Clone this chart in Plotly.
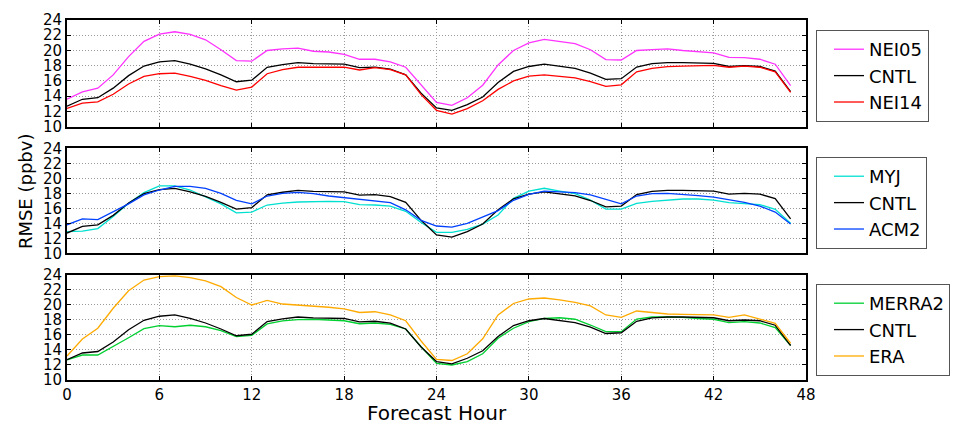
import plotly.graph_objects as go

hours = list(range(48))

cntl = [12.7, 13.6, 13.8, 15.06, 16.7, 17.96, 18.5, 18.67, 18.2, 17.6, 16.8, 15.9,
        16.1, 17.8, 18.14, 18.4, 18.27, 18.27, 18.2, 17.75, 17.83, 17.57, 16.8, 14.4,
        12.46, 12.15, 12.9, 13.9, 15.8, 17.26, 17.9, 18.2, 17.9, 17.66, 17.04, 16.2,
        16.3, 17.83, 18.27, 18.4, 18.4, 18.36, 18.3, 17.9, 18.0, 17.9, 17.3, 14.6]

nei05 = [13.6, 14.57, 15.06, 16.8, 19.2, 21.2, 22.15, 22.46, 22.1, 21.4, 20.1, 18.67,
         18.6, 20.0, 20.2, 20.3, 19.9, 19.8, 19.5, 18.85, 18.85, 18.5, 17.8, 15.5,
         13.2, 12.8, 13.8, 15.45, 18.1, 20.0, 21.0, 21.45, 21.2, 20.9, 20.1, 18.8,
         18.75, 20.0, 20.1, 20.2, 20.0, 19.85, 19.7, 19.1, 19.07, 18.85, 18.2, 15.4]

nei14 = [12.4, 13.1, 13.25, 14.26, 15.6, 16.6, 16.95, 17.04, 16.6, 16.07, 15.4, 14.8,
         15.2, 16.95, 17.48, 17.8, 17.8, 17.8, 17.83, 17.44, 17.75, 17.48, 16.8, 14.2,
         12.15, 11.66, 12.37, 13.4, 14.9, 16.0, 16.64, 16.8, 16.6, 16.4, 15.9, 15.3,
         15.5, 17.2, 17.66, 17.88, 17.96, 18.0, 18.05, 17.8, 17.96, 17.8, 17.2, 14.5]

myj = [12.9, 12.96, 13.3, 14.9, 16.67, 18.1, 19.0, 19.0, 18.44, 17.56, 16.6, 15.4,
       15.5, 16.44, 16.7, 16.84, 16.9, 16.93, 16.9, 16.5, 16.44, 16.3, 15.6, 14.1,
       12.8, 12.8, 13.2, 13.9, 15.1, 17.33, 18.3, 18.67, 18.3, 17.96, 17.1, 15.9,
       15.9, 16.67, 16.93, 17.1, 17.24, 17.24, 17.1, 16.75, 16.67, 16.5, 15.86, 14.0]

acm2 = [13.8, 14.6, 14.5, 15.5, 16.6, 17.8, 18.44, 18.93, 18.93, 18.67, 18.0, 17.07,
        16.6, 17.64, 18.0, 18.13, 17.96, 17.64, 17.4, 17.24, 17.0, 16.75, 15.8, 14.4,
        13.64, 13.5, 14.0, 14.8, 15.7, 17.07, 17.87, 18.3, 18.17, 18.1, 17.8, 17.2,
        16.6, 17.64, 17.96, 18.0, 17.87, 17.7, 17.5, 17.2, 16.8, 16.3, 15.5, 13.9]

merra2 = [12.67, 13.33, 13.33, 14.44, 15.64, 16.84, 17.24, 17.1, 17.3, 17.1, 16.58, 15.78,
          15.96, 17.47, 17.87, 18.04, 18.1, 18.0, 17.9, 17.5, 17.6, 17.42, 16.8, 14.44,
          12.2, 12.0, 12.44, 13.5, 15.56, 16.9, 17.78, 18.2, 18.3, 18.1, 17.33, 16.44,
          16.44, 18.13, 18.4, 18.4, 18.36, 18.2, 18.1, 17.64, 17.78, 17.6, 16.98, 14.58]

era = [13.2, 15.47, 16.9, 19.56, 21.9, 23.33, 23.78, 23.87, 23.64, 23.2, 22.44, 21.0,
       20.0, 20.6, 20.13, 20.0, 19.87, 19.7, 19.47, 19.0, 19.1, 18.67, 17.9, 15.2,
       12.75, 12.6, 13.5, 15.5, 18.67, 20.2, 20.8, 20.93, 20.67, 20.36, 19.87, 18.67,
       18.36, 19.2, 19.0, 18.8, 18.76, 18.76, 18.67, 18.36, 18.67, 18.13, 17.56, 14.9]

xticks = [0, 6, 12, 18, 24, 30, 36, 42, 48]
yticks = [10, 12, 14, 16, 18, 20, 22, 24]

panels = [
    [("NEI05", nei05, "#ff33ff"), ("CNTL", cntl, "#000000"), ("NEI14", nei14, "#ff0000")],
    [("MYJ", myj, "#00e0d0"), ("CNTL", cntl, "#000000"), ("ACM2", acm2, "#0040ff")],
    [("MERRA2", merra2, "#00d030"), ("CNTL", cntl, "#000000"), ("ERA", era, "#ffaa00")],
]

FONT = "DejaVu Sans"
fig = go.Figure()

# plot area: x 67..808, y 20..380 (px)
domains = [[0.7036, 1.0], [0.3519, 0.6436], [0.0, 0.2917]]
legend_tops = [0.9722, 0.6194, 0.2667]

for i, series in enumerate(panels):
    n = i + 1
    xa = "x" if n == 1 else f"x{n}"
    ya = "y" if n == 1 else f"y{n}"
    lg = "legend" if n == 1 else f"legend{n}"
    for name, vals, col in series:
        fig.add_trace(go.Scatter(x=hours, y=vals, mode="lines", name=name,
                                 line=dict(color=col, width=1.3),
                                 xaxis=xa, yaxis=ya, legend=lg))
    axcommon = dict(showline=True, linecolor="black", linewidth=2, mirror="allticks",
                    ticks="inside", ticklen=4, tickcolor="black", tickwidth=1,
                    showgrid=True, gridcolor="#9a9a9a", griddash="1px,2px", gridwidth=1,
                    zeroline=False, tickfont=dict(family=FONT, size=15, color="black"))
    xkey = "xaxis" if n == 1 else f"xaxis{n}"
    ykey = "yaxis" if n == 1 else f"yaxis{n}"
    fig.update_layout({
        xkey: dict(axcommon, domain=[0, 1], range=[0, 48], tickvals=xticks,
                   ticktext=[str(t) for t in xticks], showticklabels=(n == 3),
                   anchor=ya),
        ykey: dict(axcommon, domain=domains[i], range=[10, 24], tickvals=yticks,
                   ticktext=[str(t) for t in yticks], anchor=xa),
        lg: dict(x=1.0135, y=legend_tops[i], xanchor="left", yanchor="top",
                 bgcolor="white", bordercolor="#555555", borderwidth=1,
                 font=dict(family=FONT, size=18, color="black"),
                 indentation=12, traceorder="normal"),
    })

fig.add_annotation(text="RMSE (ppbv)", xref="paper", yref="paper",
                   x=-0.0567, y=0.525, textangle=-90, showarrow=False,
                   xanchor="center", yanchor="middle",
                   font=dict(family=FONT, size=18, color="black"))
fig.add_annotation(text="Forecast Hour", xref="paper", yref="paper",
                   x=0.5, y=-0.0917, showarrow=False,
                   xanchor="center", yanchor="middle",
                   font=dict(family=FONT, size=20, color="black"))

fig.update_layout(width=962, height=426, margin=dict(l=67, r=154, t=20, b=46),
                  paper_bgcolor="white", plot_bgcolor="white", showlegend=True)

fig.write_html("out.html")
